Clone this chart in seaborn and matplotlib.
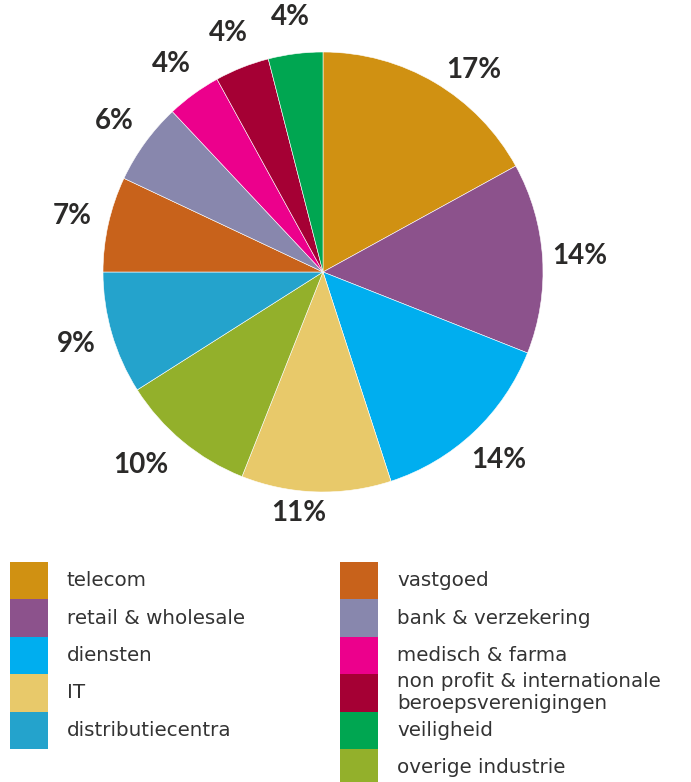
import matplotlib
matplotlib.use("Agg")
import matplotlib.pyplot as plt
from matplotlib.patches import Rectangle
import numpy as np
import seaborn as sns

# Sector shares (percent), in the order the slices run clockwise from 12 o'clock
slice_sectors = ["telecom", "retail & wholesale", "diensten", "IT", "overige industrie",
                 "distributiecentra", "vastgoed", "bank & verzekering", "medisch & farma",
                 "non profit & internationale\nberoepsverenigingen", "veiligheid"]
slice_values = [17, 14, 14, 11, 10, 9, 7, 6, 4, 4, 4]

# Legend entries, two columns
legend_left = ["telecom", "retail & wholesale", "diensten", "IT", "distributiecentra"]
legend_right = ["vastgoed", "bank & verzekering", "medisch & farma",
                "non profit & internationale\nberoepsverenigingen", "veiligheid",
                "overige industrie"]

sector_colors = {
    "telecom": "#D09112",
    "retail & wholesale": "#8C528C",
    "diensten": "#00AEEF",
    "IT": "#E8C96A",
    "distributiecentra": "#24A3CC",
    "vastgoed": "#C8621B",
    "bank & verzekering": "#8887AD",
    "medisch & farma": "#EC008C",
    "non profit & internationale\nberoepsverenigingen": "#A50034",
    "veiligheid": "#00A651",
    "overige industrie": "#93B02B",
}

# Hand nudges (pixels, right / up) for a few percentage labels
label_nudge = {0: (20, -20), 3: (-16, 16), 4: (-18, 5)}

sns.set_theme(style="white")
plt.rcParams["font.family"] = ["DejaVu Sans"]

W, H = 691, 782
fig = plt.figure(figsize=(W / 100, H / 100), dpi=100)
fig.patch.set_facecolor("white")

# Pie axes: centre (323, 272) px, radius 220 px
cx, cy, r = 323, 272, 220
ax = fig.add_axes([(cx - r) / W, (H - cy - r) / H, 2 * r / W, 2 * r / H])
palette = sns.color_palette([sector_colors[s] for s in slice_sectors])
wedges, _ = ax.pie(
    slice_values, colors=palette, startangle=90, counterclock=False, radius=1,
    wedgeprops=dict(linewidth=0.4, edgecolor="white"),
)

label_r = 1.17
for i, (w, v) in enumerate(zip(wedges, slice_values)):
    mid = np.deg2rad((w.theta1 + w.theta2) / 2)
    pos = (label_r * np.cos(mid), label_r * np.sin(mid))
    ax.annotate(f"{v}%", xy=pos, xytext=label_nudge.get(i, (0, 0)),
                textcoords="offset pixels", ha="center", va="center",
                fontsize=20, fontweight="bold", color="#2b2a29",
                family=["Lato", "DejaVu Sans"], annotation_clip=False)

ax.set_xlim(-1, 1)
ax.set_ylim(-1, 1)
ax.set_aspect("equal")
ax.axis("off")

# Legend drawn in pixel space
lax = fig.add_axes([0, 0, 1, 1])
lax.set_xlim(0, W)
lax.set_ylim(H, 0)
lax.axis("off")
lax.patch.set_alpha(0)

row_h = 37.4
top = 562
for col_x, entries in ((10, legend_left), (340, legend_right)):
    for i, name in enumerate(entries):
        y0 = top + i * row_h
        lax.add_patch(Rectangle((col_x, y0), 38, row_h + 0.3,
                                facecolor=sector_colors[name], edgecolor="none"))
        lax.text(col_x + 57, y0 + row_h / 2, name, ha="left", va="center",
                 fontsize=14.3, color="#333333", linespacing=1.2)

fig.savefig("out.png", dpi=100, facecolor="white")
